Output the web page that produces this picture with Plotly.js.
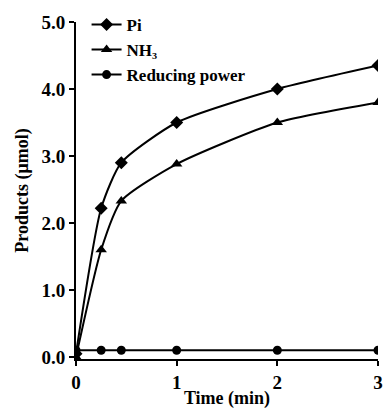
<!DOCTYPE html>
<html><head><meta charset="utf-8">
<script src="https://cdn.plot.ly/plotly-3.0.1.min.js"></script>
<style>html,body{margin:0;padding:0;background:#fff}#c{width:385px;height:412px}</style>
</head><body><div id="c"></div>
<script>
const time = [0, 0.25, 0.45, 1, 2, 3];
const pi = [0.05, 2.22, 2.9, 3.5, 4.0, 4.35];
const nh3 = [0.0, 1.6, 2.33, 2.88, 3.5, 3.8];
const reducing = [0.1, 0.1, 0.1, 0.1, 0.1, 0.1];
const names = ['Pi', 'NH₃', 'Reducing power'];
const xTicks = [0, 1, 2, 3];
const yTicks = [0, 1, 2, 3, 4, 5];

const font = {family: 'Liberation Serif, Times New Roman, serif', color: '#000'};
function tr(y, name, sym, size) {
  return {x: time, y: y, name: name, type: 'scatter', mode: 'lines+markers',
    line: {color: '#000', width: 2, shape: 'spline', smoothing: 0.6},
    marker: {symbol: sym, size: size, color: '#000'}};
}
const data = [
  tr(pi, names[0], 'diamond', 10),
  tr(nh3, names[1], 'triangle-up', 10),
  tr(reducing, names[2], 'circle', 9)
];
const layout = {
  width: 385, height: 412,
  margin: {l: 76, r: 7, t: 20, b: 53},
  paper_bgcolor: '#fff', plot_bgcolor: '#fff',
  font: Object.assign({size: 18}, font),
  showlegend: true,
  legend: {x: 0.035, y: 1.045, xanchor: 'left', yanchor: 'top', bgcolor: 'rgba(0,0,0,0)',
    font: Object.assign({size: 17, weight: 'bold'}, font), tracegroupgap: 0, itemwidth: 30},
  xaxis: {range: [0, 3], tickvals: xTicks, ticktext: xTicks.map(String),
    showgrid: false, zeroline: false, showline: true, linecolor: '#000', linewidth: 2,
    ticks: 'outside', ticklen: 5, tickwidth: 2, tickcolor: '#000',
    tickfont: Object.assign({size: 19, weight: 'bold'}, font),
    title: {text: 'Time (min)', font: Object.assign({size: 18, weight: 'bold'}, font), standoff: 0}},
  yaxis: {range: [-0.03, 5], tickvals: yTicks, ticktext: yTicks.map(v => v.toFixed(1)),
    showgrid: false, zeroline: false, showline: true, linecolor: '#000', linewidth: 2,
    ticks: 'outside', ticklen: 5, tickwidth: 2, tickcolor: '#000',
    tickfont: Object.assign({size: 19, weight: 'bold'}, font),
    title: {text: 'Products (μmol)', font: Object.assign({size: 18, weight: 'bold'}, font), standoff: 8}}
};
Plotly.newPlot('c', data, layout, {displayModeBar: false});
</script></body></html>
